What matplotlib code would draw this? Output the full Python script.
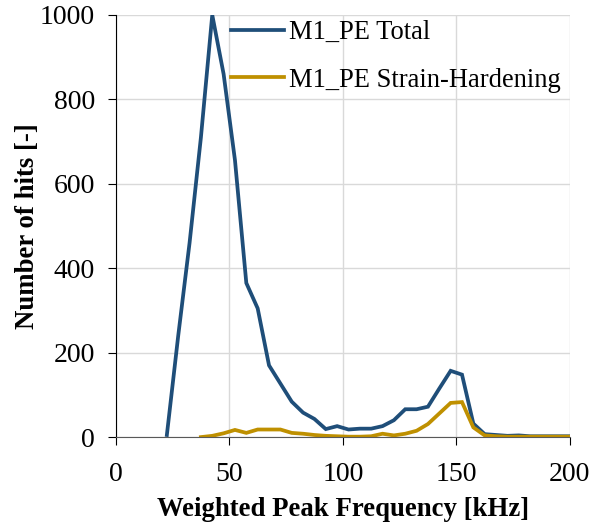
import matplotlib
matplotlib.use("Agg")
import matplotlib.pyplot as plt

freq_total = [22.5, 27.5, 32.5, 37.5, 42.5, 47.5, 52.5, 57.5, 62.5, 67.5, 72.5, 77.5,
              82.5, 87.5, 92.5, 97.5, 102.5, 107.5, 112.5, 117.5, 122.5, 127.5, 132.5,
              137.5, 142.5, 147.5, 152.5, 157.5, 162.5, 167.5, 172.5, 177.5, 182.5,
              187.5, 192.5, 197.5, 202.5]
hits_total = [5, 240, 460, 710, 1000, 860, 656, 365, 305, 170, 127, 84,
              58, 43, 19, 26, 18, 20, 20, 26, 40, 66, 66,
              72, 115, 157, 148, 32, 7, 5, 3, 4, 2, 2, 2, 2, 2]

freq_sh = [37.5, 42.5, 47.5, 52.5, 57.5, 62.5, 67.5, 72.5, 77.5, 82.5, 87.5, 92.5,
           97.5, 102.5, 107.5, 112.5, 117.5, 122.5, 127.5, 132.5, 137.5, 142.5, 147.5,
           152.5, 157.5, 162.5, 167.5, 172.5, 177.5, 182.5, 187.5, 192.5, 197.5, 202.5]
hits_sh = [0, 3, 9, 17, 10, 18, 18, 18, 10, 8, 5, 3,
           2, 1, 1, 2, 8, 4, 8, 15, 31, 56, 81,
           83, 23, 4, 2, 1, 1, 1, 1, 1, 1, 1]

x_ticks = [0, 50, 100, 150, 200]
y_ticks = [0, 200, 400, 600, 800, 1000]

plt.rcParams['font.family'] = ['Liberation Serif', 'DejaVu Serif']

fig = plt.figure(figsize=(6.03, 5.26), dpi=100)
ax = fig.add_axes([0.192, 0.169, 0.753, 0.8025])

ax.plot(freq_total, hits_total, color='#1f4e79', lw=2.7, label='M1_PE Total',
        solid_joinstyle='miter', clip_on=True)
ax.plot(freq_sh, hits_sh, color='#bf9000', lw=2.7, label='M1_PE Strain-Hardening',
        solid_joinstyle='miter', clip_on=True)

ax.set_xlim(0, 200)
ax.set_ylim(0, 1000)
ax.set_xticks(x_ticks)
ax.set_yticks(y_ticks)
ax.grid(True, color='#d9d9d9', lw=1.0)
ax.set_axisbelow(True)
for s in ['top', 'right']:
    ax.spines[s].set_visible(False)
ax.spines['left'].set_color('black')
ax.spines['bottom'].set_color('#595959')
ax.tick_params(axis='both', direction='out', length=6, labelsize=20, colors='black')
ax.tick_params(axis='y', pad=9)
ax.tick_params(axis='x', pad=12)

ax.set_xlabel('Weighted Peak Frequency [kHz]', fontsize=19.3, fontweight='bold', labelpad=7)
ax.set_ylabel('Number of hits [-]', fontsize=19.3, fontweight='bold', labelpad=0)

leg = ax.legend(loc='upper left', bbox_to_anchor=(0.23, 1.013), frameon=False,
                fontsize=19.1, handlelength=2.0, handletextpad=0.2, labelspacing=0.85,
                borderaxespad=0)

fig.savefig('out.png', dpi=100)
